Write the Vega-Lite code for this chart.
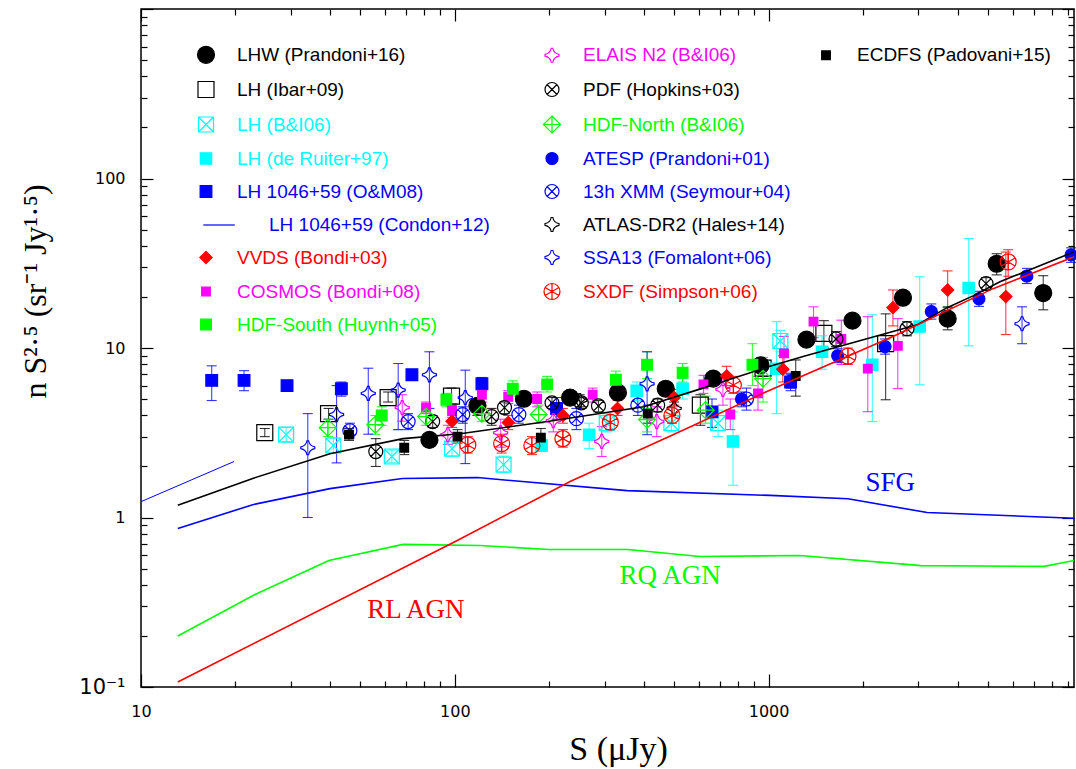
{
  "$schema": "https://vega.github.io/schema/vega-lite/v6.json",
  "width": 933,
  "height": 678,
  "autosize": {"type": "none"},
  "padding": {"left": 141, "top": 9, "right": 2, "bottom": 82},
  "background": "white",
  "config": {
    "view": {"stroke": "black", "strokeWidth": 1.5},
    "axis": {"grid": false, "domain": false, "tickColor": "black", "tickWidth": 1.2, "labelColor": "black", "titleColor": "black"},
    "legend": {"orient": "none", "legendX": 55, "legendY": 36, "columns": 3, "padding": 0, "labelFont": "Liberation Sans", "labelFontSize": 19, "labelLimit": 600, "rowPadding": 13, "columnPadding": 25, "symbolStrokeWidth": 1.2}
  },
  "datasets": {
    "pts": [
      {"s": 83, "n": 2.87, "lo": 2.75, "hi": 3.0, "series": "LHW (Prandoni+16)"},
      {"s": 118, "n": 4.56, "lo": 4.0, "hi": 4.9, "series": "LHW (Prandoni+16)"},
      {"s": 166, "n": 5.02, "lo": 4.7, "hi": 5.3, "series": "LHW (Prandoni+16)"},
      {"s": 233, "n": 5.1, "lo": 4.8, "hi": 5.4, "series": "LHW (Prandoni+16)"},
      {"s": 331, "n": 5.45, "lo": 5.1, "hi": 5.8, "series": "LHW (Prandoni+16)"},
      {"s": 470, "n": 5.75, "lo": 5.4, "hi": 6.1, "series": "LHW (Prandoni+16)"},
      {"s": 666, "n": 6.6, "lo": 6.2, "hi": 7.0, "series": "LHW (Prandoni+16)"},
      {"s": 942, "n": 7.9, "lo": 7.3, "hi": 8.6, "series": "LHW (Prandoni+16)"},
      {"s": 1320, "n": 11.2, "lo": 10.4, "hi": 12.0, "series": "LHW (Prandoni+16)"},
      {"s": 1850, "n": 14.5, "lo": 13.5, "hi": 15.6, "series": "LHW (Prandoni+16)"},
      {"s": 2680, "n": 19.8, "lo": 18.3, "hi": 21.5, "series": "LHW (Prandoni+16)"},
      {"s": 3720, "n": 14.9, "lo": 12.8, "hi": 17.5, "series": "LHW (Prandoni+16)"},
      {"s": 5330, "n": 31.4, "lo": 27.0, "hi": 36.0, "series": "LHW (Prandoni+16)"},
      {"s": 7500, "n": 21.1, "lo": 16.8, "hi": 26.7, "series": "LHW (Prandoni+16)"},

      {"s": 24.8, "n": 3.17, "lo": 3.0, "hi": 3.35, "series": "LH (Ibar+09)"},
      {"s": 39.6, "n": 4.1, "lo": 3.8, "hi": 4.4, "series": "LH (Ibar+09)"},
      {"s": 61.3, "n": 5.1, "lo": 4.8, "hi": 5.5, "series": "LH (Ibar+09)"},
      {"s": 97.6, "n": 5.2, "lo": 4.6, "hi": 5.8, "series": "LH (Ibar+09)"},
      {"s": 606, "n": 4.6, "lo": 3.5, "hi": 5.3, "series": "LH (Ibar+09)"},
      {"s": 960, "n": 7.6, "lo": 6.8, "hi": 8.5, "series": "LH (Ibar+09)"},
      {"s": 1500, "n": 12.2, "lo": 10.0, "hi": 14.5, "series": "LH (Ibar+09)"},
      {"s": 2360, "n": 10.6, "lo": 4.95, "hi": 15.9, "series": "LH (Ibar+09)"},

      {"s": 29, "n": 3.08, "lo": 2.8, "hi": 3.4, "series": "LH (B&I06)"},
      {"s": 41, "n": 2.66, "lo": 2.4, "hi": 2.95, "series": "LH (B&I06)"},
      {"s": 63, "n": 2.29, "lo": 2.1, "hi": 2.5, "series": "LH (B&I06)"},
      {"s": 98, "n": 2.55, "lo": 2.3, "hi": 2.8, "series": "LH (B&I06)"},
      {"s": 143, "n": 2.05, "lo": 1.85, "hi": 2.3, "series": "LH (B&I06)"},
      {"s": 305, "n": 3.6, "lo": 3.2, "hi": 4.1, "series": "LH (B&I06)"},
      {"s": 490, "n": 3.6, "lo": 3.2, "hi": 4.1, "series": "LH (B&I06)"},
      {"s": 690, "n": 3.6, "lo": 3.0, "hi": 4.3, "series": "LH (B&I06)"},
      {"s": 1090, "n": 11.0, "lo": 9.5, "hi": 12.7, "series": "LH (B&I06)"},

      {"s": 189, "n": 2.66, "lo": 2.45, "hi": 2.9, "series": "LH (de Ruiter+97)"},
      {"s": 268, "n": 3.08, "lo": 2.55, "hi": 3.6, "series": "LH (de Ruiter+97)"},
      {"s": 380, "n": 5.6, "lo": 4.9, "hi": 6.3, "series": "LH (de Ruiter+97)"},
      {"s": 532, "n": 5.75, "lo": 5.0, "hi": 6.6, "series": "LH (de Ruiter+97)"},
      {"s": 770, "n": 2.81, "lo": 1.55, "hi": 4.2, "series": "LH (de Ruiter+97)"},
      {"s": 1060, "n": 7.55, "lo": 4.1, "hi": 14.3, "series": "LH (de Ruiter+97)"},
      {"s": 1480, "n": 9.5, "lo": 7.5, "hi": 11.8, "series": "LH (de Ruiter+97)"},
      {"s": 2140, "n": 7.97, "lo": 3.68, "hi": 15.7, "series": "LH (de Ruiter+97)"},
      {"s": 3030, "n": 13.4, "lo": 6.07, "hi": 26.3, "series": "LH (de Ruiter+97)"},
      {"s": 4340, "n": 22.6, "lo": 10.3, "hi": 44.2, "series": "LH (de Ruiter+97)"},

      {"s": 16.8, "n": 6.44, "lo": 4.9, "hi": 7.85, "series": "LH 1046+59 (O&M08)"},
      {"s": 21.3, "n": 6.44, "lo": 5.6, "hi": 7.35, "series": "LH 1046+59 (O&M08)"},
      {"s": 29.2, "n": 6.0, "lo": 5.7, "hi": 6.3, "series": "LH 1046+59 (O&M08)"},
      {"s": 43.5, "n": 5.75, "lo": 5.2, "hi": 6.3, "series": "LH 1046+59 (O&M08)"},
      {"s": 73, "n": 6.95, "lo": 6.5, "hi": 7.4, "series": "LH 1046+59 (O&M08)"},
      {"s": 122, "n": 6.15, "lo": 5.6, "hi": 6.7, "series": "LH 1046+59 (O&M08)"},
      {"s": 211, "n": 4.4, "lo": 3.8, "hi": 5.1, "series": "LH 1046+59 (O&M08)"},
      {"s": 660, "n": 4.2, "lo": 3.4, "hi": 5.0, "series": "LH 1046+59 (O&M08)"},
      {"s": 1175, "n": 6.3, "lo": 5.6, "hi": 7.1, "series": "LH 1046+59 (O&M08)"},

      {"s": 98, "n": 3.7, "lo": 3.4, "hi": 4.0, "series": "VVDS (Bondi+03)"},
      {"s": 148, "n": 3.63, "lo": 3.3, "hi": 4.0, "series": "VVDS (Bondi+03)"},
      {"s": 221, "n": 4.0, "lo": 3.6, "hi": 4.4, "series": "VVDS (Bondi+03)"},
      {"s": 330, "n": 4.4, "lo": 4.0, "hi": 4.9, "series": "VVDS (Bondi+03)"},
      {"s": 500, "n": 5.1, "lo": 4.6, "hi": 5.7, "series": "VVDS (Bondi+03)"},
      {"s": 735, "n": 6.85, "lo": 6.0, "hi": 7.8, "series": "VVDS (Bondi+03)"},
      {"s": 1110, "n": 7.5, "lo": 6.3, "hi": 9.0, "series": "VVDS (Bondi+03)"},
      {"s": 2490, "n": 17.3, "lo": 13.5, "hi": 22.0, "series": "VVDS (Bondi+03)"},
      {"s": 3720, "n": 22.0, "lo": 17.3, "hi": 28.5, "series": "VVDS (Bondi+03)"},
      {"s": 5700, "n": 20.1, "lo": 12.0, "hi": 36.8, "series": "VVDS (Bondi+03)"},

      {"s": 81, "n": 4.45, "lo": 4.1, "hi": 4.8, "series": "COSMOS (Bondi+08)"},
      {"s": 98, "n": 4.3, "lo": 3.9, "hi": 4.7, "series": "COSMOS (Bondi+08)"},
      {"s": 122, "n": 5.3, "lo": 4.8, "hi": 5.9, "series": "COSMOS (Bondi+08)"},
      {"s": 148, "n": 5.15, "lo": 4.7, "hi": 5.6, "series": "COSMOS (Bondi+08)"},
      {"s": 183, "n": 5.0, "lo": 4.5, "hi": 5.5, "series": "COSMOS (Bondi+08)"},
      {"s": 275, "n": 5.3, "lo": 4.8, "hi": 5.8, "series": "COSMOS (Bondi+08)"},
      {"s": 620, "n": 6.1, "lo": 5.4, "hi": 6.9, "series": "COSMOS (Bondi+08)"},
      {"s": 755, "n": 4.05, "lo": 3.3, "hi": 5.0, "series": "COSMOS (Bondi+08)"},
      {"s": 925, "n": 5.4, "lo": 4.3, "hi": 6.8, "series": "COSMOS (Bondi+08)"},
      {"s": 1120, "n": 9.3, "lo": 7.4, "hi": 11.7, "series": "COSMOS (Bondi+08)"},
      {"s": 1390, "n": 14.3, "lo": 11.5, "hi": 17.5, "series": "COSMOS (Bondi+08)"},
      {"s": 1705, "n": 11.3, "lo": 8.0, "hi": 14.6, "series": "COSMOS (Bondi+08)"},
      {"s": 2070, "n": 7.55, "lo": 4.21, "hi": 15.3, "series": "COSMOS (Bondi+08)"},
      {"s": 2580, "n": 10.3, "lo": 5.76, "hi": 14.9, "series": "COSMOS (Bondi+08)"},

      {"s": 58.5, "n": 4.0, "lo": 3.5, "hi": 4.5, "series": "HDF-South (Huynh+05)"},
      {"s": 94, "n": 4.95, "lo": 4.5, "hi": 5.4, "series": "HDF-South (Huynh+05)"},
      {"s": 153, "n": 5.75, "lo": 5.2, "hi": 6.4, "series": "HDF-South (Huynh+05)"},
      {"s": 197, "n": 6.1, "lo": 5.5, "hi": 6.8, "series": "HDF-South (Huynh+05)"},
      {"s": 326, "n": 6.5, "lo": 5.8, "hi": 7.3, "series": "HDF-South (Huynh+05)"},
      {"s": 410, "n": 7.97, "lo": 6.6, "hi": 9.5, "series": "HDF-South (Huynh+05)"},
      {"s": 532, "n": 7.15, "lo": 6.3, "hi": 8.1, "series": "HDF-South (Huynh+05)"},
      {"s": 888, "n": 7.97, "lo": 6.0, "hi": 10.6, "series": "HDF-South (Huynh+05)"},

      {"s": 68, "n": 4.45, "lo": 3.7, "hi": 5.3, "series": "ELAIS N2 (B&I06)"},
      {"s": 95, "n": 3.08, "lo": 2.7, "hi": 3.5, "series": "ELAIS N2 (B&I06)"},
      {"s": 140, "n": 3.16, "lo": 2.6, "hi": 3.8, "series": "ELAIS N2 (B&I06)"},
      {"s": 206, "n": 3.73, "lo": 3.2, "hi": 4.3, "series": "ELAIS N2 (B&I06)"},
      {"s": 294, "n": 2.81, "lo": 2.29, "hi": 3.44, "series": "ELAIS N2 (B&I06)"},
      {"s": 440, "n": 3.68, "lo": 3.0, "hi": 4.5, "series": "ELAIS N2 (B&I06)"},
      {"s": 715, "n": 5.7, "lo": 4.6, "hi": 7.0, "series": "ELAIS N2 (B&I06)"},

      {"s": 56, "n": 2.45, "lo": 2.0, "hi": 2.92, "series": "PDF (Hopkins+03)"},
      {"s": 85, "n": 3.68, "lo": 3.4, "hi": 4.0, "series": "PDF (Hopkins+03)"},
      {"s": 131, "n": 3.94, "lo": 3.5, "hi": 4.4, "series": "PDF (Hopkins+03)"},
      {"s": 144, "n": 4.45, "lo": 4.1, "hi": 4.8, "series": "PDF (Hopkins+03)"},
      {"s": 204, "n": 4.75, "lo": 4.4, "hi": 5.1, "series": "PDF (Hopkins+03)"},
      {"s": 253, "n": 4.75, "lo": 4.4, "hi": 5.1, "series": "PDF (Hopkins+03)"},
      {"s": 287, "n": 4.55, "lo": 4.2, "hi": 4.9, "series": "PDF (Hopkins+03)"},
      {"s": 443, "n": 4.6, "lo": 4.2, "hi": 5.0, "series": "PDF (Hopkins+03)"},
      {"s": 1640, "n": 11.3, "lo": 10.2, "hi": 12.5, "series": "PDF (Hopkins+03)"},
      {"s": 2760, "n": 13.0, "lo": 11.8, "hi": 14.3, "series": "PDF (Hopkins+03)"},
      {"s": 4930, "n": 24.0, "lo": 22.0, "hi": 26.0, "series": "PDF (Hopkins+03)"},

      {"s": 39.4, "n": 3.39, "lo": 3.0, "hi": 3.8, "series": "HDF-North (B&I06)"},
      {"s": 55.8, "n": 3.53, "lo": 3.1, "hi": 4.0, "series": "HDF-North (B&I06)"},
      {"s": 81, "n": 3.94, "lo": 3.5, "hi": 4.4, "series": "HDF-North (B&I06)"},
      {"s": 122, "n": 4.1, "lo": 3.7, "hi": 4.6, "series": "HDF-North (B&I06)"},
      {"s": 185, "n": 4.05, "lo": 3.6, "hi": 4.6, "series": "HDF-North (B&I06)"},
      {"s": 410, "n": 3.78, "lo": 3.2, "hi": 4.4, "series": "HDF-North (B&I06)"},
      {"s": 630, "n": 4.3, "lo": 3.6, "hi": 5.2, "series": "HDF-North (B&I06)"},
      {"s": 960, "n": 6.6, "lo": 4.8, "hi": 8.8, "series": "HDF-North (B&I06)"},

      {"s": 820, "n": 5.0, "lo": 4.5, "hi": 5.5, "series": "ATESP (Prandoni+01)"},
      {"s": 1175, "n": 6.39, "lo": 5.8, "hi": 7.0, "series": "ATESP (Prandoni+01)"},
      {"s": 1660, "n": 9.0, "lo": 8.2, "hi": 9.9, "series": "ATESP (Prandoni+01)"},
      {"s": 2350, "n": 10.2, "lo": 9.2, "hi": 11.3, "series": "ATESP (Prandoni+01)"},
      {"s": 3300, "n": 16.4, "lo": 14.8, "hi": 18.2, "series": "ATESP (Prandoni+01)"},
      {"s": 4680, "n": 19.5, "lo": 17.6, "hi": 21.6, "series": "ATESP (Prandoni+01)"},
      {"s": 6650, "n": 26.6, "lo": 24.0, "hi": 29.5, "series": "ATESP (Prandoni+01)"},
      {"s": 9200, "n": 35.4, "lo": 32.0, "hi": 39.0, "series": "ATESP (Prandoni+01)"},

      {"s": 46.3, "n": 3.25, "lo": 2.95, "hi": 3.6, "series": "13h XMM (Seymour+04)"},
      {"s": 71, "n": 3.68, "lo": 3.3, "hi": 4.1, "series": "13h XMM (Seymour+04)"},
      {"s": 106, "n": 4.05, "lo": 3.6, "hi": 4.5, "series": "13h XMM (Seymour+04)"},
      {"s": 160, "n": 4.05, "lo": 3.6, "hi": 4.6, "series": "13h XMM (Seymour+04)"},
      {"s": 244, "n": 3.83, "lo": 3.3, "hi": 4.4, "series": "13h XMM (Seymour+04)"},
      {"s": 383, "n": 4.6, "lo": 4.0, "hi": 5.3, "series": "13h XMM (Seymour+04)"},
      {"s": 850, "n": 5.0, "lo": 4.3, "hi": 5.8, "series": "13h XMM (Seymour+04)"},

      {"s": 250, "n": 4.9, "lo": 4.5, "hi": 5.3, "series": "ATLAS-DR2 (Hales+14)"},
      {"s": 500, "n": 4.4, "lo": 4.0, "hi": 4.8, "series": "ATLAS-DR2 (Hales+14)"},

      {"s": 34, "n": 2.58, "lo": 1.0, "hi": 4.1, "series": "SSA13 (Fomalont+06)"},
      {"s": 42, "n": 4.05, "lo": 2.1, "hi": 6.0, "series": "SSA13 (Fomalont+06)"},
      {"s": 53, "n": 5.4, "lo": 3.1, "hi": 7.6, "series": "SSA13 (Fomalont+06)"},
      {"s": 66, "n": 5.65, "lo": 3.3, "hi": 8.1, "series": "SSA13 (Fomalont+06)"},
      {"s": 83, "n": 6.95, "lo": 4.4, "hi": 9.5, "series": "SSA13 (Fomalont+06)"},
      {"s": 108, "n": 5.1, "lo": 2.08, "hi": 7.4, "series": "SSA13 (Fomalont+06)"},
      {"s": 410, "n": 6.15, "lo": 3.08, "hi": 9.5, "series": "SSA13 (Fomalont+06)"},
      {"s": 6420, "n": 13.9, "lo": 10.6, "hi": 17.5, "series": "SSA13 (Fomalont+06)"},

      {"s": 110, "n": 2.68, "lo": 2.4, "hi": 3.0, "series": "SXDF (Simpson+06)"},
      {"s": 141, "n": 2.73, "lo": 2.4, "hi": 3.1, "series": "SXDF (Simpson+06)"},
      {"s": 176, "n": 2.66, "lo": 2.35, "hi": 3.0, "series": "SXDF (Simpson+06)"},
      {"s": 221, "n": 2.92, "lo": 2.6, "hi": 3.3, "series": "SXDF (Simpson+06)"},
      {"s": 313, "n": 3.65, "lo": 3.3, "hi": 4.0, "series": "SXDF (Simpson+06)"},
      {"s": 492, "n": 4.0, "lo": 3.6, "hi": 4.5, "series": "SXDF (Simpson+06)"},
      {"s": 772, "n": 6.05, "lo": 5.4, "hi": 6.8, "series": "SXDF (Simpson+06)"},
      {"s": 1790, "n": 8.95, "lo": 8.0, "hi": 10.0, "series": "SXDF (Simpson+06)"},
      {"s": 5800, "n": 32.2, "lo": 26.5, "hi": 38.0, "series": "SXDF (Simpson+06)"},

      {"s": 46, "n": 3.08, "lo": 2.85, "hi": 3.35, "series": "ECDFS (Padovani+15)"},
      {"s": 69, "n": 2.58, "lo": 2.35, "hi": 2.85, "series": "ECDFS (Padovani+15)"},
      {"s": 102, "n": 3.0, "lo": 2.75, "hi": 3.3, "series": "ECDFS (Padovani+15)"},
      {"s": 188, "n": 2.96, "lo": 2.6, "hi": 3.35, "series": "ECDFS (Padovani+15)"},
      {"s": 412, "n": 4.1, "lo": 3.6, "hi": 4.6, "series": "ECDFS (Padovani+15)"},
      {"s": 1220, "n": 6.84, "lo": 5.2, "hi": 8.5, "series": "ECDFS (Padovani+15)"}
    ],
    "models": [
      {"s": 13.1, "n": 1.18, "model": "Total"},
      {"s": 22.7, "n": 1.7, "model": "Total"},
      {"s": 40, "n": 2.38, "model": "Total"},
      {"s": 68.4, "n": 2.92, "model": "Total"},
      {"s": 104, "n": 3.12, "model": "Total"},
      {"s": 200, "n": 3.7, "model": "Total"},
      {"s": 400, "n": 4.5, "model": "Total"},
      {"s": 600, "n": 5.7, "model": "Total"},
      {"s": 1010, "n": 7.8, "model": "Total"},
      {"s": 1288, "n": 8.9, "model": "Total"},
      {"s": 2972, "n": 13.7, "model": "Total"},
      {"s": 3705, "n": 17.3, "model": "Total"},
      {"s": 4480, "n": 20.3, "model": "Total"},
      {"s": 5460, "n": 24.6, "model": "Total"},
      {"s": 9400, "n": 36.9, "model": "Total"},
      {"s": 13.1, "n": 0.86, "model": "SFG"},
      {"s": 22.7, "n": 1.19, "model": "SFG"},
      {"s": 40, "n": 1.48, "model": "SFG"},
      {"s": 68, "n": 1.7, "model": "SFG"},
      {"s": 118, "n": 1.72, "model": "SFG"},
      {"s": 354, "n": 1.44, "model": "SFG"},
      {"s": 1010, "n": 1.35, "model": "SFG"},
      {"s": 1790, "n": 1.29, "model": "SFG"},
      {"s": 3200, "n": 1.07, "model": "SFG"},
      {"s": 9400, "n": 0.99, "model": "SFG"},
      {"s": 13.1, "n": 0.2, "model": "RQ AGN"},
      {"s": 23, "n": 0.35, "model": "RQ AGN"},
      {"s": 39.7, "n": 0.558, "model": "RQ AGN"},
      {"s": 68.4, "n": 0.694, "model": "RQ AGN"},
      {"s": 120, "n": 0.684, "model": "RQ AGN"},
      {"s": 199, "n": 0.648, "model": "RQ AGN"},
      {"s": 356, "n": 0.648, "model": "RQ AGN"},
      {"s": 604, "n": 0.589, "model": "RQ AGN"},
      {"s": 1259, "n": 0.597, "model": "RQ AGN"},
      {"s": 3060, "n": 0.52, "model": "RQ AGN"},
      {"s": 7550, "n": 0.515, "model": "RQ AGN"},
      {"s": 9400, "n": 0.558, "model": "RQ AGN"},
      {"s": 13.1, "n": 0.107, "model": "RL AGN"},
      {"s": 100, "n": 0.72, "model": "RL AGN"},
      {"s": 233, "n": 1.63, "model": "RL AGN"},
      {"s": 500, "n": 3.1, "model": "RL AGN"},
      {"s": 1000, "n": 5.6, "model": "RL AGN"},
      {"s": 2490, "n": 11.7, "model": "RL AGN"},
      {"s": 5190, "n": 22.4, "model": "RL AGN"},
      {"s": 9400, "n": 34.5, "model": "RL AGN"}
    ],
    "condon": [
      {"s": 10, "n": 1.24},
      {"s": 19.8, "n": 2.14}
    ],
    "notes": [
      {"s": 75.2, "n": 0.283, "model": "RL AGN", "label": "RL AGN"},
      {"s": 485, "n": 0.449, "model": "RQ AGN", "label": "RQ AGN"},
      {"s": 2440, "n": 1.59, "model": "SFG", "label": "SFG"}
    ]
  },
  "layer": [
    {
      "data": {"name": "pts"},
      "mark": {"type": "rule", "strokeWidth": 1.1, "opacity": 0.75},
      "encoding": {
        "x": {"field": "s", "type": "quantitative", "scale": {"type": "log", "domain": [10, 9400], "nice": false}, "axis": null},
        "y": {"field": "lo", "type": "quantitative", "scale": {"type": "log", "domain": [0.1, 1000], "nice": false}, "axis": null},
        "y2": {"field": "hi"},
        "color": {"field": "series", "type": "nominal", "legend": null,
          "scale": {
            "domain": ["LHW (Prandoni+16)", "LH (Ibar+09)", "LH (B&I06)", "LH (de Ruiter+97)", "LH 1046+59 (O&M08)", "LH 1046+59 (Condon+12)", "VVDS (Bondi+03)", "COSMOS (Bondi+08)", "HDF-South (Huynh+05)", "00000000000000000000000000i", "ELAIS N2 (B&I06)", "PDF (Hopkins+03)", "HDF-North (B&I06)", "ATESP (Prandoni+01)", "13h XMM (Seymour+04)", "ATLAS-DR2 (Hales+14)", "SSA13 (Fomalont+06)", "SXDF (Simpson+06)", "a", "b", "ECDFS (Padovani+15)", "c", "d", "e", "f", "g", "h", "j", "k", "m", "Total", "SFG", "RQ AGN", "RL AGN"],
            "range": ["#000000", "#000000", "#00ffff", "#00ffff", "#0000ff", "#0000ff", "#ff0000", "#ff00ff", "#00ff00", "transparent", "#ff00ff", "#000000", "#00ff00", "#0000ff", "#0000ff", "#000000", "#0000ff", "#ff0000", "transparent", "transparent", "#000000", "transparent", "transparent", "transparent", "transparent", "transparent", "transparent", "transparent", "transparent", "transparent", "#000000", "#0000ff", "#00ff00", "#ff0000"]
          }
        }
      }
    },
    {
      "data": {"name": "pts"},
      "mark": {"type": "tick", "orient": "horizontal", "size": 10, "thickness": 1.1, "opacity": 0.8},
      "encoding": {
        "x": {"field": "s", "type": "quantitative", "scale": {"type": "log", "domain": [10, 9400], "nice": false}, "axis": null},
        "y": {"field": "lo", "type": "quantitative", "scale": {"type": "log", "domain": [0.1, 1000], "nice": false}, "axis": null},
        "color": {"field": "series", "type": "nominal", "legend": null}
      }
    },
    {
      "data": {"name": "pts"},
      "mark": {"type": "tick", "orient": "horizontal", "size": 10, "thickness": 1.1, "opacity": 0.8},
      "encoding": {
        "x": {"field": "s", "type": "quantitative", "scale": {"type": "log", "domain": [10, 9400], "nice": false}, "axis": null},
        "y": {"field": "hi", "type": "quantitative", "scale": {"type": "log", "domain": [0.1, 1000], "nice": false}, "axis": null},
        "color": {"field": "series", "type": "nominal", "legend": null}
      }
    },
    {
      "data": {"name": "pts"},
      "mark": {"type": "point", "opacity": 1, "strokeWidth": 1.2},
      "encoding": {
        "x": {"field": "s", "type": "quantitative", "scale": {"type": "log", "domain": [10, 9400], "nice": false}, "axis": null},
        "y": {"field": "n", "type": "quantitative", "scale": {"type": "log", "domain": [0.1, 1000], "nice": false}, "axis": null},
        "fill": {"field": "series", "type": "nominal",
          "scale": {
            "domain": ["LHW (Prandoni+16)", "LH (Ibar+09)", "LH (B&I06)", "LH (de Ruiter+97)", "LH 1046+59 (O&M08)", "LH 1046+59 (Condon+12)", "VVDS (Bondi+03)", "COSMOS (Bondi+08)", "HDF-South (Huynh+05)", "00000000000000000000000000i", "ELAIS N2 (B&I06)", "PDF (Hopkins+03)", "HDF-North (B&I06)", "ATESP (Prandoni+01)", "13h XMM (Seymour+04)", "ATLAS-DR2 (Hales+14)", "SSA13 (Fomalont+06)", "SXDF (Simpson+06)", "a", "b", "ECDFS (Padovani+15)", "c", "d", "e", "f", "g", "h", "j", "k", "m"],
            "range": ["#000000", "transparent", "transparent", "#00ffff", "#0000ff", "transparent", "#ff0000", "#ff00ff", "#00ff00", "transparent", "transparent", "transparent", "transparent", "#0000ff", "transparent", "transparent", "transparent", "transparent", "transparent", "transparent", "#000000", "transparent", "transparent", "transparent", "transparent", "transparent", "transparent", "transparent", "transparent", "transparent"]
          },
          "legend": {"title": null, "labelColor": {"expr": "scale('stroke', datum.value)"}, "labelOffset": {"expr": "datum.value == 'LH 1046+59 (Condon+12)' ? 53 : 21"}}
        },
        "stroke": {"field": "series", "type": "nominal",
          "scale": {
            "domain": ["LHW (Prandoni+16)", "LH (Ibar+09)", "LH (B&I06)", "LH (de Ruiter+97)", "LH 1046+59 (O&M08)", "LH 1046+59 (Condon+12)", "VVDS (Bondi+03)", "COSMOS (Bondi+08)", "HDF-South (Huynh+05)", "00000000000000000000000000i", "ELAIS N2 (B&I06)", "PDF (Hopkins+03)", "HDF-North (B&I06)", "ATESP (Prandoni+01)", "13h XMM (Seymour+04)", "ATLAS-DR2 (Hales+14)", "SSA13 (Fomalont+06)", "SXDF (Simpson+06)", "a", "b", "ECDFS (Padovani+15)", "c", "d", "e", "f", "g", "h", "j", "k", "m"],
            "range": ["#000000", "#000000", "#00ffff", "#00ffff", "#0000ff", "#0000ff", "#ff0000", "#ff00ff", "#00ff00", "transparent", "#ff00ff", "#000000", "#00ff00", "#0000ff", "#0000ff", "#000000", "#0000ff", "#ff0000", "transparent", "transparent", "#000000", "transparent", "transparent", "transparent", "transparent", "transparent", "transparent", "transparent", "transparent", "transparent"]
          },
          "legend": {"title": null, "labelColor": {"expr": "scale('stroke', datum.value)"}, "labelOffset": {"expr": "datum.value == 'LH 1046+59 (Condon+12)' ? 53 : 21"}}
        },
        "shape": {"field": "series", "type": "nominal",
          "scale": {
            "domain": ["LHW (Prandoni+16)", "LH (Ibar+09)", "LH (B&I06)", "LH (de Ruiter+97)", "LH 1046+59 (O&M08)", "LH 1046+59 (Condon+12)", "VVDS (Bondi+03)", "COSMOS (Bondi+08)", "HDF-South (Huynh+05)", "00000000000000000000000000i", "ELAIS N2 (B&I06)", "PDF (Hopkins+03)", "HDF-North (B&I06)", "ATESP (Prandoni+01)", "13h XMM (Seymour+04)", "ATLAS-DR2 (Hales+14)", "SSA13 (Fomalont+06)", "SXDF (Simpson+06)", "a", "b", "ECDFS (Padovani+15)", "c", "d", "e", "f", "g", "h", "j", "k", "m"],
            "range": ["circle", "square", "M-1,-1L1,-1L1,1L-1,1ZM-1,-1L1,1M-1,1L1,-1", "square", "square", "M-0.3,0L3.2,0", "diamond", "square", "square", "circle", "M-0.12,-1L0.12,-1Q0.25,-0.25,1,-0.12L1,0.12Q0.25,0.25,0.12,1L-0.12,1Q-0.25,0.25,-1,0.12L-1,-0.12Q-0.25,-0.25,-0.12,-1Z", "M1,0A1,1,0,1,1,-1,0A1,1,0,1,1,1,0ZM-0.71,-0.71L0.71,0.71M-0.71,0.71L0.71,-0.71", "M0,-1L1,0L0,1L-1,0ZM0,-1L0,1M-1,0L1,0", "circle", "M1,0A1,1,0,1,1,-1,0A1,1,0,1,1,1,0ZM-0.71,-0.71L0.71,0.71M-0.71,0.71L0.71,-0.71", "M-0.12,-1L0.12,-1Q0.25,-0.25,1,-0.12L1,0.12Q0.25,0.25,0.12,1L-0.12,1Q-0.25,0.25,-1,0.12L-1,-0.12Q-0.25,-0.25,-0.12,-1Z", "M-0.12,-1L0.12,-1Q0.25,-0.25,1,-0.12L1,0.12Q0.25,0.25,0.12,1L-0.12,1Q-0.25,0.25,-1,0.12L-1,-0.12Q-0.25,-0.25,-0.12,-1Z", "M1,0A1,1,0,1,1,-1,0A1,1,0,1,1,1,0ZM0,-1L0,1M-0.87,-0.5L0.87,0.5M-0.87,0.5L0.87,-0.5", "circle", "circle", "square", "circle", "circle", "circle", "circle", "circle", "circle", "circle", "circle", "circle"]
          },
          "legend": {"title": null, "labelColor": {"expr": "scale('stroke', datum.value)"}, "labelOffset": {"expr": "datum.value == 'LH 1046+59 (Condon+12)' ? 53 : 21"}}
        },
        "size": {"field": "series", "type": "nominal",
          "scale": {
            "type": "ordinal",
            "domain": ["LHW (Prandoni+16)", "LH (Ibar+09)", "LH (B&I06)", "LH (de Ruiter+97)", "LH 1046+59 (O&M08)", "LH 1046+59 (Condon+12)", "VVDS (Bondi+03)", "COSMOS (Bondi+08)", "HDF-South (Huynh+05)", "00000000000000000000000000i", "ELAIS N2 (B&I06)", "PDF (Hopkins+03)", "HDF-North (B&I06)", "ATESP (Prandoni+01)", "13h XMM (Seymour+04)", "ATLAS-DR2 (Hales+14)", "SSA13 (Fomalont+06)", "SXDF (Simpson+06)", "a", "b", "ECDFS (Padovani+15)", "c", "d", "e", "f", "g", "h", "j", "k", "m"],
            "range": [289, 256, 225, 130, 137, 324, 150, 75, 114, 100, 196, 196, 289, 144, 196, 196, 196, 256, 100, 100, 75, 100, 100, 100, 100, 100, 100, 100, 100, 100]
          },
          "legend": {"title": null, "labelColor": {"expr": "scale('stroke', datum.value)"}, "labelOffset": {"expr": "datum.value == 'LH 1046+59 (Condon+12)' ? 53 : 21"}}
        }
      }
    },
    {
      "data": {"name": "models"},
      "mark": {"type": "line", "strokeWidth": 1.6, "clip": true},
      "encoding": {
        "x": {"field": "s", "type": "quantitative", "scale": {"type": "log", "domain": [10, 9400], "nice": false},
          "axis": {"orient": "bottom",
            "values": [10, 20, 30, 40, 50, 60, 70, 80, 90, 100, 200, 300, 400, 500, 600, 700, 800, 900, 1000, 2000, 3000, 4000, 5000, 6000, 7000, 8000, 9000],
            "labelExpr": "abs(log(datum.value)/LN10 - round(log(datum.value)/LN10)) < 0.001 ? format(datum.value, 'd') : ''",
            "tickSize": {"condition": {"test": "abs(log(datum.value)/LN10 - round(log(datum.value)/LN10)) < 0.001", "value": -13}, "value": -6},
            "labelFont": "DejaVu Sans", "labelFontSize": 16, "labelPadding": 29, "labelFlush": false, "labelOverlap": false,
            "title": "S (μJy)", "titleFont": "Liberation Serif", "titleFontSize": 34, "titleFontWeight": "normal",
            "titleX": 477, "titleY": 72, "titleBaseline": "alphabetic", "titleAlign": "center"}
        },
        "y": {"field": "n", "type": "quantitative", "scale": {"type": "log", "domain": [0.1, 1000], "nice": false},
          "axis": {"orient": "left",
            "values": [0.1, 0.2, 0.3, 0.4, 0.5, 0.6, 0.7, 0.8, 0.9, 1, 2, 3, 4, 5, 6, 7, 8, 9, 10, 20, 30, 40, 50, 60, 70, 80, 90, 100, 200, 300, 400, 500, 600, 700, 800, 900, 1000],
            "labelExpr": "datum.value == 0.1 ? '10⁻¹' : (datum.value == 1 || datum.value == 10 || datum.value == 100) ? format(datum.value, 'd') : ''",
            "tickSize": {"condition": {"test": "abs(log(datum.value)/LN10 - round(log(datum.value)/LN10)) < 0.001", "value": -12}, "value": -6},
            "labelFont": "DejaVu Sans", "labelFontSize": {"condition": {"test": "datum.value == 0.1", "value": 21}, "value": 16},
            "labelPadding": 28, "labelFlush": false, "labelOverlap": false,
            "title": "n S²·⁵ (sr⁻¹ Jy¹·⁵)", "titleFont": "Liberation Serif", "titleFontSize": 32, "titleFontWeight": "normal",
            "titleX": -96, "titleY": 282, "titleBaseline": "alphabetic", "titleAlign": "center", "titleAngle": 270}
        },
        "color": {"field": "model", "type": "nominal", "legend": null}
      }
    },
    {
      "data": {"name": "condon"},
      "mark": {"type": "line", "strokeWidth": 1, "color": "#0000ff", "clip": true},
      "encoding": {
        "x": {"field": "s", "type": "quantitative", "scale": {"type": "log", "domain": [10, 9400], "nice": false},
          "axis": {"orient": "top", "labels": false, "title": null,
            "values": [10, 20, 30, 40, 50, 60, 70, 80, 90, 100, 200, 300, 400, 500, 600, 700, 800, 900, 1000, 2000, 3000, 4000, 5000, 6000, 7000, 8000, 9000],
            "tickSize": {"condition": {"test": "abs(log(datum.value)/LN10 - round(log(datum.value)/LN10)) < 0.001", "value": -12}, "value": -6}}
        },
        "y": {"field": "n", "type": "quantitative", "scale": {"type": "log", "domain": [0.1, 1000], "nice": false},
          "axis": {"orient": "right", "labels": false, "title": null,
            "values": [0.1, 0.2, 0.3, 0.4, 0.5, 0.6, 0.7, 0.8, 0.9, 1, 2, 3, 4, 5, 6, 7, 8, 9, 10, 20, 30, 40, 50, 60, 70, 80, 90, 100, 200, 300, 400, 500, 600, 700, 800, 900, 1000],
            "tickSize": {"condition": {"test": "abs(log(datum.value)/LN10 - round(log(datum.value)/LN10)) < 0.001", "value": -12}, "value": -6}}
        }
      }
    },
    {
      "data": {"name": "notes"},
      "mark": {"type": "text", "font": "Liberation Serif", "fontSize": 27, "align": "center", "baseline": "middle"},
      "encoding": {
        "x": {"field": "s", "type": "quantitative", "scale": {"type": "log", "domain": [10, 9400], "nice": false}, "axis": null},
        "y": {"field": "n", "type": "quantitative", "scale": {"type": "log", "domain": [0.1, 1000], "nice": false}, "axis": null},
        "text": {"field": "label"},
        "color": {"field": "model", "type": "nominal", "legend": null}
      }
    }
  ],
  "resolve": {"axis": {"x": "independent", "y": "independent"}}
}
